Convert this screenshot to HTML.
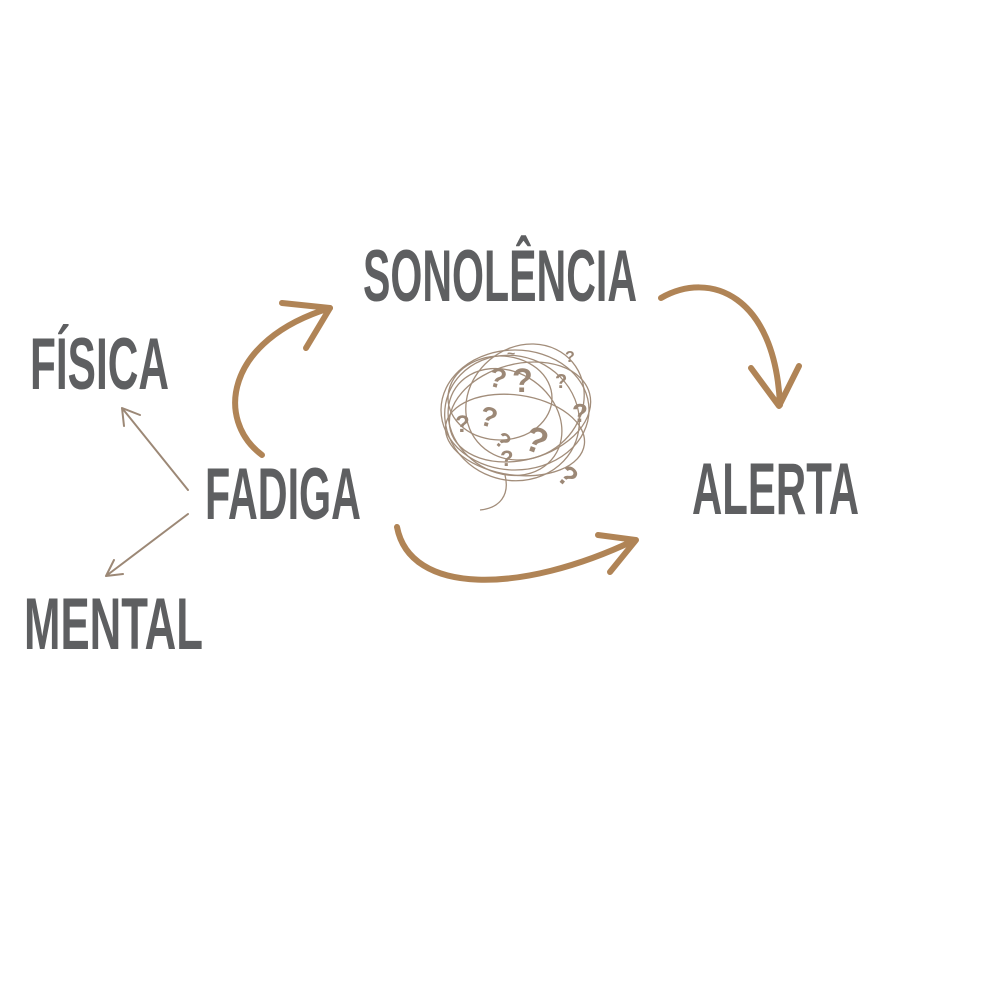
<!DOCTYPE html>
<html><head><meta charset="utf-8"><style>html,body{margin:0;padding:0;background:#fff;width:1000px;height:1000px;overflow:hidden}</style></head>
<body>
<svg width="1000" height="1000" viewBox="0 0 1000 1000" xmlns="http://www.w3.org/2000/svg">
<g font-family="'Liberation Sans Narrow','Liberation Sans',sans-serif" font-weight="bold" fill="#5e5f61" font-size="73">
<text x="363" y="301" textLength="274" lengthAdjust="spacingAndGlyphs">SONOLÊNCIA</text>
<text x="30" y="389" textLength="139" lengthAdjust="spacingAndGlyphs">FÍSICA</text>
<text x="205" y="519" textLength="156" lengthAdjust="spacingAndGlyphs">FADIGA</text>
<text x="24" y="649" textLength="179" lengthAdjust="spacingAndGlyphs">MENTAL</text>
<text x="692" y="514" textLength="167" lengthAdjust="spacingAndGlyphs">ALERTA</text>
</g>
<g stroke="#9c8876" stroke-width="2" fill="none" stroke-linecap="round">
<path d="M188,490 L122,408 M122,408 L124,426 M122,408 L140,415"/>
<path d="M188,514 L106,576 M106,576 L114,560 M106,576 L123,574"/>
</g>
<g stroke="#b08456" stroke-width="6" fill="none" stroke-linecap="round" stroke-linejoin="round">
<path d="M262,455 C215,420 225,340 330,308"/>
<path d="M282,303 L330,308 L306,348"/>
<path d="M661,298 C710,270 775,295 780,405"/>
<path d="M751,368 L779,406 L799,366"/>
<path d="M397,527 C410,595 520,595 635,540"/>
<path d="M598,535 L636,540 L610,572"/>
</g>
<g stroke="#a28d7a" stroke-width="1.3" fill="none">
<ellipse cx="515" cy="410" rx="74" ry="60"/>
<ellipse cx="512" cy="418" rx="68" ry="62" transform="rotate(20 512 418)"/>
<ellipse cx="520" cy="412" rx="72" ry="48" transform="rotate(-15 520 412)"/>
<ellipse cx="505" cy="422" rx="60" ry="50" transform="rotate(35 505 422)"/>
<ellipse cx="525" cy="402" rx="62" ry="55" transform="rotate(-40 525 402)"/>
<ellipse cx="515" cy="435" rx="70" ry="40" transform="rotate(8 515 435)"/>
<ellipse cx="500" cy="398" rx="52" ry="42"/>
<path d="M505,475 C510,495 500,508 480,510"/>
</g>
<g font-family="'Liberation Sans',sans-serif" font-weight="bold" fill="#9c8876">
<text x="487" y="385" font-size="28" transform="rotate(15 487 385)">?</text>
<text x="512" y="392" font-size="34">?</text>
<text x="555" y="388" font-size="20">?</text>
<text x="478" y="424" font-size="28" transform="rotate(15 478 424)">?</text>
<text x="455" y="432" font-size="24">?</text>
<text x="572" y="422" font-size="26">?</text>
<text x="522" y="448" font-size="36" transform="rotate(20 522 448)">?</text>
<text x="493" y="442" font-size="22" transform="rotate(40 493 442)">?</text>
<text x="500" y="466" font-size="22">?</text>
<text x="555" y="478" font-size="28" transform="rotate(40 555 478)">?</text>
<text x="565" y="362" font-size="16">?</text>
<text x="507" y="358" font-size="14">~</text>
</g>
</svg>
</body></html>
